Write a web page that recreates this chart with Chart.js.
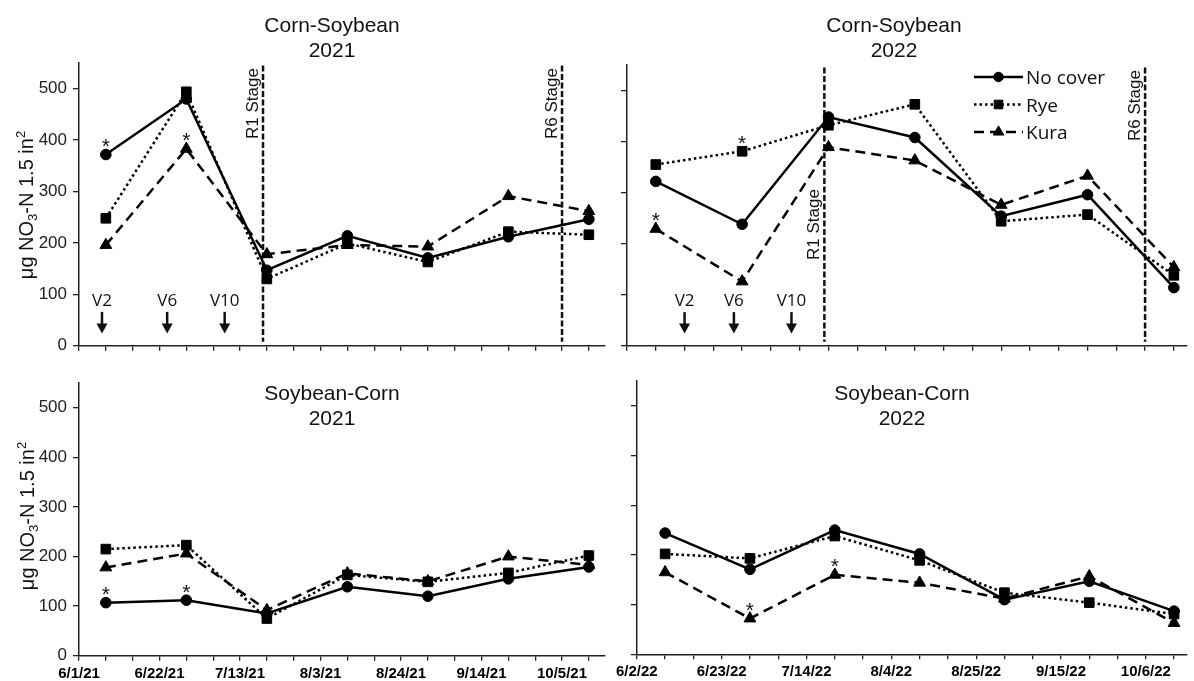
<!DOCTYPE html>
<html>
<head>
<meta charset="utf-8">
<script src="https://cdn.jsdelivr.net/npm/chart.js@4.4.1/dist/chart.umd.min.js"></script>
<style>
html,body{margin:0;padding:0;background:#fff;}
#wrap{position:relative;width:1194px;height:681px;overflow:hidden;background:#fff;font-family:"Liberation Sans",Arial,sans-serif;color:#111;}
canvas{position:absolute;display:block;}
.title{position:absolute;text-align:center;font-size:21px;line-height:25px;white-space:nowrap;transform:translateX(-50%);}
.ylab{position:absolute;font-size:20px;line-height:22px;white-space:nowrap;transform:translate(-50%,-50%) rotate(-90deg);}
.ylab sub{font-size:13px;vertical-align:-4px;line-height:0;}
.ylab sup{font-size:13px;vertical-align:8px;line-height:0;}
</style>
</head>
<body>
<div id="wrap">
  <canvas id="cTL" width="612" height="362" style="left:0;top:0"></canvas>
  <canvas id="cTR" width="582" height="362" style="left:612px;top:0"></canvas>
  <canvas id="cBL" width="612" height="319" style="left:0;top:362px"></canvas>
  <canvas id="cBR" width="582" height="319" style="left:612px;top:362px"></canvas>

  <div class="title" style="left:332px;top:12px">Corn-Soybean<br>2021</div>
  <div class="title" style="left:894px;top:12px">Corn-Soybean<br>2022</div>
  <div class="title" style="left:332px;top:380px">Soybean-Corn<br>2021</div>
  <div class="title" style="left:902px;top:380px">Soybean-Corn<br>2022</div>

  <div class="ylab" style="left:26px;top:205px">μg NO<sub>3</sub>-N 1.5 in<sup>2</sup></div>
  <div class="ylab" style="left:27px;top:516px">μg NO<sub>3</sub>-N 1.5 in<sup>2</sup></div>
</div>

<script>
// ---------------- DATA ----------------
const seriesNames = ['No cover', 'Rye', 'Kura'];

const axisStart2021 = '2021-06-01';
const axisStart2022 = '2022-06-02';
const sampleDates2021 = ['2021-06-08','2021-06-29','2021-07-20','2021-08-10','2021-08-31','2021-09-21','2021-10-12'];
const sampleDates2022 = ['2022-06-09','2022-06-30','2022-07-21','2022-08-11','2022-09-01','2022-09-22','2022-10-13'];

const xTickLabels2021 = ['6/1/21','6/22/21','7/13/21','8/3/21','8/24/21','9/14/21','10/5/21'];
const xTickLabels2022 = ['6/2/22','6/23/22','7/14/22','8/4/22','8/25/22','9/15/22','10/6/22'];
const yTickValues = [0, 100, 200, 300, 400, 500];

// Corn-Soybean 2021
const csNoCover2021 = [372, 480, 147, 214, 171, 212, 246];
const csRye2021     = [248, 494, 130, 199, 163, 222, 216];
const csKura2021    = [196, 383, 178, 196, 193, 291, 262];
// Corn-Soybean 2022
const csNoCover2022 = [322, 238, 448, 408, 254, 296, 114];
const csRye2022     = [355, 381, 432, 473, 244, 257, 138];
const csKura2022    = [229, 126, 389, 363, 276, 333, 154];
// Soybean-Corn 2021
const scNoCover2021 = [107, 112, 85, 139, 120, 155, 179];
const scRye2021     = [215, 223, 75, 163, 149, 167, 202];
const scKura2021    = [178, 206, 92, 166, 150, 200, 183];
// Soybean-Corn 2022
const scNoCover2022 = [244, 171, 250, 202, 110, 147, 87];
const scRye2022     = [202, 193, 238, 189, 124, 104, 81];
const scKura2022    = [165, 72, 160, 144, 112, 157, 63];

// growth stages (corn-soybean panels)
const stageDates2021 = [{date:'2021-07-19', label:'R1 Stage'}, {date:'2021-10-05', label:'R6 Stage'}];
const stageDates2022 = [{date:'2022-07-20', label:'R1 Stage'}, {date:'2022-10-06', label:'R6 Stage'}];
const vStages2021 = [{date:'2021-06-07', label:'V2'}, {date:'2021-06-24', label:'V6'}, {date:'2021-07-09', label:'V10'}];
const vStages2022 = [{date:'2022-06-16', label:'V2'}, {date:'2022-06-28', label:'V6'}, {date:'2022-07-12', label:'V10'}];

// significance stars: [series index, sample index]
const starsCS2021 = [[0,0],[2,1]];
const starsCS2022 = [[1,1],[2,0]];
const starsSC2021 = [[0,0],[0,1]];
const starsSC2022 = [[2,1],[2,2]];

// ---------------- HELPERS ----------------
const DAY = 86400000;
function dayOffset(d, start){ return Math.round((Date.parse(d) - Date.parse(start)) / DAY); }

const seriesStyles = [
  {borderDash:[], pointStyle:'circle', pointRadius:5.3},
  {borderDash:[2.5,3], pointStyle:'rect', pointRadius:6.8},
  {borderDash:[10,6], pointStyle:'triangle', pointRadius:6.8}
];

function buildDatasets(dates, start, arrays){
  return arrays.map((vals, k) => ({
    label: seriesNames[k],
    data: dates.map((d,i) => ({x: dayOffset(d, start), y: vals[i]})),
    borderColor:'#000', backgroundColor:'#000',
    pointBackgroundColor:'#000', pointBorderColor:'#000', pointBorderWidth:1,
    borderWidth:2.5, tension:0, clip:false,
    borderDash: seriesStyles[k].borderDash,
    pointStyle: seriesStyles[k].pointStyle,
    pointRadius: seriesStyles[k].pointRadius,
    pointHoverRadius: seriesStyles[k].pointRadius
  }));
}

const deco = {
  id:'deco',
  beforeDatasetsDraw(chart, args, opts){
    const {ctx, scales:{x, y}} = chart;
    if (!opts.stages) return;
    ctx.save();
    opts.stages.forEach(s => {
      const px = x.getPixelForValue(s.day);
      ctx.strokeStyle = '#111'; ctx.lineWidth = 2.5; ctx.setLineDash([6,2.5]);
      ctx.beginPath(); ctx.moveTo(px, y.getPixelForValue(545)); ctx.lineTo(px, y.getPixelForValue(8)); ctx.stroke();
    });
    ctx.restore();
  },
  afterDatasetsDraw(chart, args, opts){
    const {ctx, scales:{x, y}} = chart;
    ctx.save();
    ctx.fillStyle = '#111';
    (opts.stages||[]).forEach(s => {
      const px = x.getPixelForValue(s.day);
      ctx.save();
      ctx.translate(px - 5, y.getPixelForValue(s.labelTop));
      ctx.rotate(-Math.PI/2);
      ctx.font = '17px "Liberation Sans", Arial, sans-serif';
      ctx.textAlign = 'right'; ctx.textBaseline = 'alphabetic';
      ctx.fillText(s.label, 0, 0);
      ctx.restore();
    });
    (opts.arrows||[]).forEach(a => {
      const px = x.getPixelForValue(a.day);
      ctx.font = '17px "Open Sans", sans-serif';
      ctx.textAlign = 'center'; ctx.textBaseline = 'middle';
      ctx.fillText(a.label, px, y.getPixelForValue(87));
      const top = y.getPixelForValue(66), tip = y.getPixelForValue(24);
      ctx.strokeStyle = '#111'; ctx.lineWidth = 2.5; ctx.setLineDash([]);
      ctx.beginPath(); ctx.moveTo(px, top); ctx.lineTo(px, tip - 8); ctx.stroke();
      ctx.beginPath(); ctx.moveTo(px - 5.5, tip - 10); ctx.lineTo(px + 5.5, tip - 10); ctx.lineTo(px, tip); ctx.closePath(); ctx.fill();
    });
    (opts.stars||[]).forEach(([ds, i]) => {
      const el = chart.getDatasetMeta(ds).data[i];
      ctx.font = '21px "Liberation Sans", Arial, sans-serif';
      ctx.textAlign = 'center'; ctx.textBaseline = 'alphabetic';
      ctx.fillText('*', el.x, el.y - 1.5);
    });
    if (opts.legend) {
      const L = opts.legend;
      chart.data.datasets.forEach((ds, k) => {
        const yy = L.y0 + k * L.dy;
        ctx.strokeStyle = '#000'; ctx.lineWidth = ds.borderWidth; ctx.setLineDash(ds.borderDash || []);
        ctx.beginPath(); ctx.moveTo(L.x0, yy); ctx.lineTo(L.x1, yy); ctx.stroke();
        ctx.setLineDash([]);
        ctx.fillStyle = '#000'; ctx.lineWidth = 1;
        Chart.helpers.drawPoint(ctx, {pointStyle: ds.pointStyle, radius: ds.pointRadius * 0.9, rotation: 0, borderWidth: 1}, (L.x0 + L.x1) / 2, yy);
        ctx.fillStyle = '#111';
        ctx.font = '19px "Open Sans", sans-serif';
        ctx.textAlign = 'left'; ctx.textBaseline = 'alphabetic';
        ctx.fillText(ds.label, L.x1 + 3, yy + 7);
      });
    }
    ctx.restore();
  }
};

function makePanel(id, p){
  const ctx = document.getElementById(id);
  const showX = !!p.xLabels;
  return new Chart(ctx, {
    type:'line',
    data:{ datasets: buildDatasets(p.dates, p.start, p.series) },
    options:{
      responsive:false, animation:false, events:[],
      layout:{ padding:{ top:p.padTop, right:p.padRight, bottom:0, left:0 } },
      plugins:{
        legend:{display:false}, tooltip:{enabled:false}, title:{display:false},
        deco:{
          stages: (p.stages||[]).map(s => ({day: dayOffset(s.date, p.start), label: s.label, labelTop: s.labelTop})),
          arrows: (p.arrows||[]).map(a => ({day: dayOffset(a.date, p.start), label: a.label})),
          stars: p.stars || [],
          legend: p.legend || null
        }
      },
      scales:{
        x:{
          type:'linear', min:0, max:p.xMax,
          border:{display:true, color:'#222', width:1.5},
          grid:{display:true, drawOnChartArea:false, drawTicks:true, tickLength:5, color:'#222', lineWidth:1.3},
          ticks:{
            stepSize:7, autoSkip:false, maxRotation:0, minRotation:0, includeBounds:false, padding:4,
            font:{family:'"Liberation Sans", Arial, sans-serif', size:15, weight:'bold'}, color:'#000',
            callback:(v) => (showX && v % 21 === 0) ? p.xLabels[v / 21] : ''
          },
          afterFit:(s) => { s.height = p.xH; }
        },
        y:{
          type:'linear', min:0, max:550,
          border:{display:true, color:'#222', width:1.5},
          grid:{display:true, drawOnChartArea:false, drawTicks:true, tickLength:6, color:'#222', lineWidth:1.3},
          ticks:{
            stepSize:100, includeBounds:false, padding:6,
            font:{family:'"Liberation Sans", Arial, sans-serif', size:17}, color:'#222',
            callback:(v) => (p.yLabels && yTickValues.includes(v)) ? String(v) : ''
          },
          afterFit:(s) => { s.width = p.yW; }
        }
      }
    },
    plugins:[deco]
  });
}

makePanel('cTL', {
  dates: sampleDates2021, start: axisStart2021, series:[csNoCover2021, csRye2021, csKura2021],
  xMax:137, padTop:63, padRight:2.4, xH:9.3, yW:79, yLabels:true, xLabels:null,
  stages: stageDates2021.map(s => ({...s, labelTop:540})),
  arrows: vStages2021, stars: starsCS2021
});
makePanel('cTR', {
  dates: sampleDates2022, start: axisStart2022, series:[csNoCover2022, csRye2022, csKura2022],
  xMax:136, padTop:65, padRight:2.9, xH:9.3, yW:15, yLabels:false, xLabels:null,
  stages: [{...stageDates2022[0], labelTop:307}, {...stageDates2022[1], labelTop:540}],
  arrows: vStages2022, stars: starsCS2022,
  legend: {x0:362, x1:411, y0:77, dy:27.5}
});
makePanel('cBL', {
  dates: sampleDates2021, start: axisStart2021, series:[scNoCover2021, scRye2021, scKura2021],
  xMax:137, padTop:21, padRight:2.4, xH:25.3, yW:79, yLabels:true, xLabels: xTickLabels2021,
  stars: starsSC2021
});
makePanel('cBR', {
  dates: sampleDates2022, start: axisStart2022, series:[scNoCover2022, scRye2022, scKura2022],
  xMax:136, padTop:19, padRight:0.9, xH:26.7, yW:17, yLabels:false, xLabels: xTickLabels2022,
  stars: starsSC2022
});
</script>
</body>
</html>
